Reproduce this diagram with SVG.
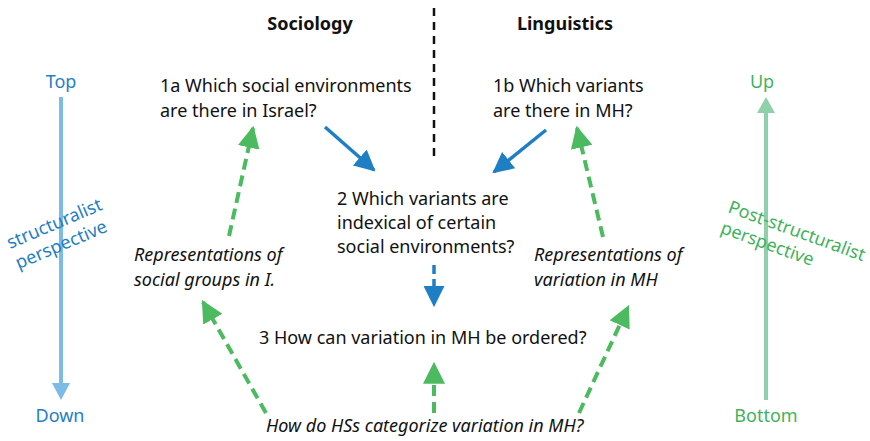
<svg xmlns="http://www.w3.org/2000/svg" width="870" height="441" viewBox="0 0 870 441">
  <style>
    text { font-family: "Noto Sans", "Open Sans", sans-serif; font-size: 18px; fill: #111; }
    .head { font-weight: bold; }
    .it { font-style: italic; }
    .blue { fill: #1f7fc4; }
    .green { fill: #3fb35c; }
    .solid { stroke: #1f7fc4; stroke-width: 3.5; fill: none; }
    .bdash { stroke: #1f7fc4; stroke-width: 3.5; fill: none; stroke-dasharray: 9 5; }
    .gdash { stroke: #4cba5f; stroke-width: 4; fill: none; stroke-dasharray: 11 6; }
  </style>
  <defs>
    <marker id="hb" viewBox="0 0 10 10" refX="9" refY="5" markerWidth="6" markerHeight="6" markerUnits="strokeWidth" orient="auto">
      <path d="M0,0 L10,5 L0,10 Z" fill="#1f7fc4"/>
    </marker>
    <marker id="hg" viewBox="0 0 10 10" refX="9" refY="5" markerWidth="5.5" markerHeight="5.5" markerUnits="strokeWidth" orient="auto">
      <path d="M0,0 L10,5 L0,10 Z" fill="#4cba5f"/>
    </marker>
  </defs>

  <!-- column headings and divider -->
  <g id="sociology"><text class="head" x="310" y="30" text-anchor="middle">Sociology</text></g>
  <g id="linguistics"><text class="head" x="565" y="30" text-anchor="middle">Linguistics</text></g>
  <line x1="434" y1="8" x2="434" y2="158" stroke="#111" stroke-width="2.5" stroke-dasharray="8 6"/>

  <!-- left scale: top to down -->
  <g id="scale-left">
    <text class="blue" x="61" y="88" text-anchor="middle">Top</text>
    <line x1="61" y1="97" x2="61" y2="384" stroke="#7bbbe6" stroke-width="4"/>
    <path d="M52,383 L70,383 L61,400 Z" fill="#7bbbe6"/>
    <text class="blue" x="60" y="422" text-anchor="middle">Down</text>
    <g transform="translate(10,249) rotate(-23)">
      <text class="blue" x="0" y="0">structuralist</text>
      <text class="blue" x="0" y="22">perspective</text>
    </g>
  </g>

  <!-- right scale: bottom to up -->
  <g id="scale-right">
    <text class="green" x="762" y="88" text-anchor="middle">Up</text>
    <line x1="766" y1="400" x2="766" y2="112" stroke="#8fd0aa" stroke-width="4"/>
    <path d="M757,113 L775,113 L766,97 Z" fill="#8fd0aa"/>
    <text class="green" x="766" y="422" text-anchor="middle">Bottom</text>
    <g transform="translate(727,212) rotate(20)">
      <text class="green" x="0" y="0">Post-structuralist</text>
      <text class="green" x="0" y="22">perspective</text>
    </g>
  </g>

  <!-- question nodes -->
  <g id="q1a">
    <text x="160" y="92">1a Which social environments</text>
    <text x="160" y="117">are there in Israel?</text>
  </g>
  <g id="q1b">
    <text x="493" y="92">1b Which variants</text>
    <text x="493" y="117">are there in MH?</text>
  </g>
  <g id="q2">
    <text x="337" y="205">2 Which variants are</text>
    <text x="337" y="229">indexical of certain</text>
    <text x="337" y="253">social environments?</text>
  </g>
  <g id="q3">
    <text x="259" y="344">3 How can variation in MH be ordered?</text>
  </g>
  <g id="rep-social">
    <text class="it" x="134" y="261">Representations of</text>
    <text class="it" x="134" y="286">social groups in I.</text>
  </g>
  <g id="rep-variation">
    <text class="it" x="534" y="261">Representations of</text>
    <text class="it" x="534" y="286">variation in MH</text>
  </g>
  <g id="hs">
    <text class="it" x="266" y="432">How do HSs categorize variation in MH?</text>
  </g>

  <!-- connectors -->
  <g id="connectors">
    <line class="solid" x1="325" y1="127" x2="374" y2="170" marker-end="url(#hb)"/>
    <line class="solid" x1="546" y1="130" x2="494" y2="172" marker-end="url(#hb)"/>
    <line class="bdash" x1="434" y1="265" x2="434" y2="305" marker-end="url(#hb)"/>
    <line class="gdash" x1="229" y1="236" x2="253" y2="128" marker-end="url(#hg)"/>
    <line class="gdash" x1="603" y1="237" x2="577" y2="128" marker-end="url(#hg)"/>
    <line class="gdash" x1="266" y1="413" x2="203" y2="302" marker-end="url(#hg)"/>
    <line class="gdash" x1="434" y1="413" x2="434" y2="364" marker-end="url(#hg)"/>
    <line class="gdash" x1="579" y1="413" x2="628" y2="307" marker-end="url(#hg)"/>
  </g>
</svg>
